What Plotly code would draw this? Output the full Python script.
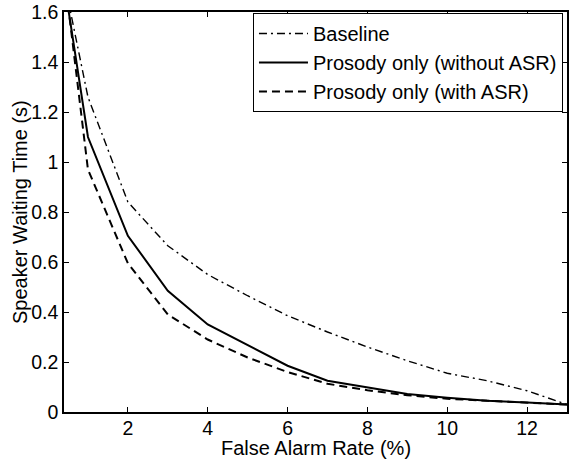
import plotly.graph_objects as go

false_alarm = [0.5, 1, 2, 3, 4, 5, 6, 7, 8, 9, 10, 11, 12, 13]
baseline = [1.65, 1.26, 0.84, 0.665, 0.55, 0.465, 0.385, 0.32, 0.26, 0.205, 0.155, 0.125, 0.085, 0.03]
prosody_no_asr = [1.62, 1.1, 0.705, 0.485, 0.35, 0.268, 0.185, 0.125, 0.1, 0.072, 0.057, 0.045, 0.038, 0.03]
prosody_asr = [1.63, 0.97, 0.595, 0.39, 0.29, 0.218, 0.16, 0.113, 0.087, 0.067, 0.053, 0.045, 0.038, 0.03]

names = ["Baseline", "Prosody only (without ASR)", "Prosody only (with ASR)"]
x_ticks = [2, 4, 6, 8, 10, 12]
y_ticks = [0, 0.2, 0.4, 0.6, 0.8, 1, 1.2, 1.4, 1.6]
y_tick_text = ["0", "0.2", "0.4", "0.6", "0.8", "1", "1.2", "1.4", "1.6"]
x_title = "False Alarm Rate (%)"
y_title = "Speaker Waiting Time (s)"

FONT = "Liberation Sans, Arial, Helvetica, sans-serif"
fs_tick = 19.5
fs = 20

fig = go.Figure()
fig.add_trace(go.Scatter(x=false_alarm, y=baseline, mode="lines", name=names[0],
                         line=dict(color="black", width=1.4, dash="8px,4px,2px,4px")))
fig.add_trace(go.Scatter(x=false_alarm, y=prosody_no_asr, mode="lines", name=names[1],
                         line=dict(color="black", width=2)))
fig.add_trace(go.Scatter(x=false_alarm, y=prosody_asr, mode="lines", name=names[2],
                         line=dict(color="black", width=2, dash="8px,5px")))

axis_common = dict(showline=True, linecolor="black", linewidth=1.5, mirror="allticks",
                   ticks="inside", ticklen=5, tickwidth=1, tickcolor="black",
                   showgrid=False, zeroline=False,
                   tickfont=dict(family=FONT, size=fs_tick, color="black"))

fig.update_layout(
    width=570, height=459,
    margin=dict(l=64, r=1, t=12, b=47),
    paper_bgcolor="white", plot_bgcolor="white",
    font=dict(family=FONT, size=fs, color="black"),
    showlegend=True,
    legend=dict(x=0.992, y=0.9975, xanchor="right", yanchor="top",
                bgcolor="white", bordercolor="black", borderwidth=1,
                font=dict(family=FONT, size=fs, color="black"),
                tracegroupgap=0, itemwidth=49),
    xaxis=dict(range=[0.4, 13], tickvals=x_ticks, ticklabelstandoff=-2, **axis_common),
    yaxis=dict(range=[0, 1.6], tickvals=y_ticks, ticktext=y_tick_text, **axis_common),
    annotations=[
        dict(text=x_title, xref="paper", yref="paper", x=0.5, y=0,
             xanchor="center", yanchor="middle", yshift=-36, showarrow=False,
             font=dict(family=FONT, size=fs, color="black")),
        dict(text=y_title, xref="paper", yref="paper", x=0, y=0.5,
             xanchor="center", yanchor="middle", xshift=-44, textangle=-90,
             showarrow=False, font=dict(family=FONT, size=fs, color="black")),
    ],
)

# Remove the page's default 8px body margin so the figure fills the window exactly.
fig.write_html("out.html", config={"displayModeBar": False},
               post_script="document.body.style.margin='0';")
